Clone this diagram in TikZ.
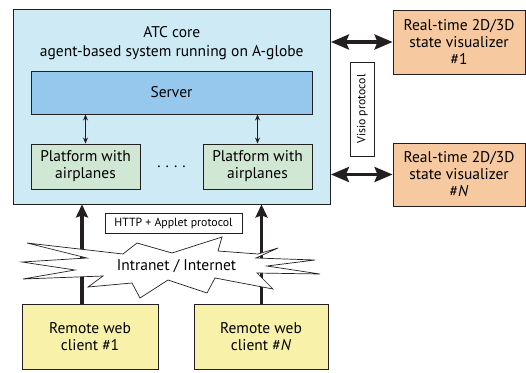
\documentclass[tikz,border=0pt]{standalone}
\usepackage{fontspec}
\setmainfont{PT Sans}
\usetikzlibrary{arrows.meta}

\definecolor{edge}{RGB}{35,31,32}
\definecolor{corebg}{RGB}{205,234,245}
\definecolor{serverbg}{RGB}{149,200,236}
\definecolor{platbg}{RGB}{207,231,211}
\definecolor{vizbg}{RGB}{246,201,160}
\definecolor{clientbg}{RGB}{247,241,169}

\begin{document}
\begin{tikzpicture}[x=1pt,y=-1pt,
  box/.style={draw=edge, line width=0.9pt, align=center, inner sep=0pt,
    font=\fontsize{15.5}{17}\selectfont},
  tag/.style={draw=edge, line width=0.7pt, fill=white, align=center, inner sep=0pt,
    font=\fontsize{11.8}{13}\selectfont},
  thinlink/.style={edge, line width=1.1pt, {Stealth[length=6pt,width=5pt]}-{Stealth[length=6pt,width=5pt]}},
  widelink/.style={edge, line width=3.4pt, {Stealth[length=18pt,width=15pt,inset=3pt]}-{Stealth[length=18pt,width=15pt,inset=3pt]}},
  uplink/.style={edge, line width=3.4pt, -{Stealth[length=13pt,width=12pt,inset=2pt]}},
]
\useasboundingbox (0,0) rectangle (526,372);

% ATC core with its server and platforms
\node[box, fill=corebg, minimum width=317.5pt, minimum height=195pt] (atc) at (171.75,106.5) {};
\node[font=\fontsize{15.5}{19}\selectfont, align=center, inner sep=0pt] (title) at (171.75,43.5)
  {ATC core\\agent-based system running on A-globe};
\node[box, fill=serverbg, minimum width=281pt, minimum height=43pt] (server) at (171.5,92.5) {Server};
\node[box, fill=platbg, minimum width=109pt, minimum height=45pt] (plat1) at (85.5,166.5) {Platform with\\airplanes};
\node[box, fill=platbg, minimum width=109pt, minimum height=45pt] (plat2) at (257.5,166.5) {Platform with\\airplanes};
\node[font=\fontsize{15.5}{17}\selectfont, inner sep=0pt] (dots) at (171.5,166.5) {.\hspace{5pt}.\hspace{5pt}.\hspace{5pt}.};

\draw[thinlink] (plat1.north |- server.south) -- (plat1.north);
\draw[thinlink] (plat2.north |- server.south) -- (plat2.north);

% visualizers
\node[box, fill=vizbg, minimum width=132pt, minimum height=64pt] (viz1) at (459,42) {Real-time 2D/3D\\state visualizer\\\#1};
\node[box, fill=vizbg, minimum width=132pt, minimum height=63pt] (vizN) at (459,174.5) {Real-time 2D/3D\\state visualizer\\\#\textit{N}};
\node[tag, minimum width=23.5pt, minimum height=94pt] (visio) at (362.25,109) {};
\node[rotate=90, font=\fontsize{11.8}{13}\selectfont] (visiotext) at (visio.center) {Visio protocol};

\draw[widelink] (viz1.west -| atc.east) -- (viz1.west);
\draw[widelink] (vizN.west -| atc.east) -- (vizN.west);

% web clients and the network between them and the core
\node[box, fill=clientbg, minimum width=136pt, minimum height=65pt] (client1) at (90,337) {Remote web\\client \#1};
\node[box, fill=clientbg, minimum width=134pt, minimum height=65pt] (clientN) at (261,337) {Remote web\\client \#\textit{N}};

\coordinate (up1) at (82,0);
\coordinate (up2) at (261.5,0);
\draw[uplink] (up1 |- client1.north) -- (up1 |- atc.south);
\draw[uplink] (up2 |- clientN.north) -- (up2 |- atc.south);

\filldraw[draw=edge, fill=white, line width=0.7pt, line join=miter]
  (27,243) -- (123,254) -- (137,243) -- (172,253) -- (222,237) -- (218,251)
  -- (258,254) -- (278,248) -- (256,258) -- (315,260) -- (267,266) -- (320,274)
  -- (257,273) -- (273,289) -- (215,278) -- (207,293) -- (168,280) -- (140,298)
  -- (132,283) -- (88,287) -- (103,276) -- (23,279) -- (75,270) -- (22,262)
  -- (87,258) -- cycle;
\node[font=\fontsize{15.5}{17}\selectfont] (net) at (176.5,266.5) {Intranet / Internet};

\node[tag, minimum width=137pt, minimum height=20pt] (http) at (173.5,223) {HTTP + Applet protocol};
\end{tikzpicture}
\end{document}
